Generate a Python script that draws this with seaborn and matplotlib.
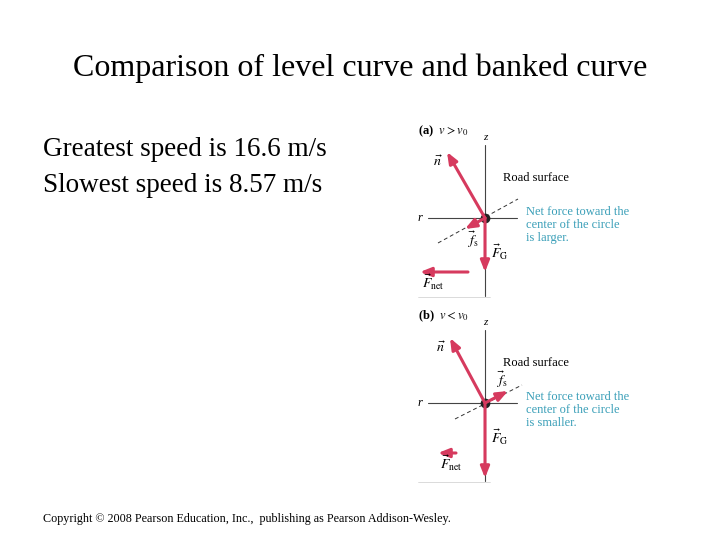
import matplotlib.pyplot as plt
import seaborn as sns

# slide text
title = "Comparison of level curve and banked curve"
lines = ["Greatest speed is 16.6 m/s", "Slowest speed is 8.57 m/s"]
footer = "Copyright © 2008 Pearson Education, Inc.,  publishing as Pearson Addison-Wesley."

# force diagrams: origin and arrow tips (pixel coords of the slide)
panels = ["(a)  $v > v_0$", "(b)  $v < v_0$"]
origins = [(485, 218), (485, 403)]
n_tips = [(447, 152), (450, 338)]
f_tips = [(465, 229), (508, 391)]
fg_tips = [(485, 272), (485, 478)]
fnet = [((468, 272), (420, 272)), ((456, 453), (438, 453))]
road = [((438, 243), (518, 199)), ((455, 419), (522, 385))]
notes = ["Net force toward the\ncenter of the circle\nis larger.",
         "Net force toward the\ncenter of the circle\nis smaller."]

sns.set_theme(style="white")
plt.rcParams["font.family"] = ["Liberation Serif", "DejaVu Serif"]
plt.rcParams["mathtext.fontset"] = "stix"
plt.rcParams["text.color"] = "black"

fig = plt.figure(figsize=(7.2, 5.4), dpi=100)
ax = fig.add_axes([0, 0, 1, 1])
ax.set_xlim(0, 720)
ax.set_ylim(540, 0)
ax.axis("off")

red = "#d63a5e"
teal = "#3a9fb8"
arrow = dict(arrowstyle="-|>,head_width=0.22,head_length=0.55",
             color=red, lw=2.2, shrinkA=0, shrinkB=0)

ax.text(360, 68, title, ha="center", va="center", fontsize=23)
for i, s in enumerate(lines):
    ax.text(43, 149 + i * 36, s, ha="left", va="center", fontsize=19.5)
ax.text(43, 519, footer, ha="left", va="center", fontsize=8.7)

for k in range(2):
    ox, oy = origins[k]
    ax.text(418, oy - 87, panels[k], fontsize=9, fontweight="bold", va="center")
    ax.plot([ox, ox], [oy - 73, oy + 78], color="#444444", lw=0.8)
    ax.plot([ox - 57, ox + 32], [oy, oy], color="#444444", lw=0.8)
    ax.text(ox, oy - 78, "z", fontsize=8, ha="center", style="italic")
    ax.text(ox - 63, oy, "r", fontsize=9, ha="right", va="center", style="italic")
    (x0, y0), (x1, y1) = road[k]
    ax.plot([x0, x1], [y0, y1], color="#333333", lw=0.7, ls=(0, (4, 3)))
    for tip in (n_tips[k], f_tips[k], fg_tips[k]):
        ax.annotate("", xy=tip, xytext=(ox, oy), arrowprops=arrow)
    s, e = fnet[k]
    ax.annotate("", xy=e, xytext=s, arrowprops=arrow)
    ax.plot(ox, oy, "o", color="#222222", ms=6)
    ax.text(n_tips[k][0] - 4, n_tips[k][1] + 14, r"$\vec{n}$", fontsize=10, ha="right")
    ax.text(ox + 6, oy + 40, r"$\vec{F}_{\rm G}$", fontsize=10)
    ax.text(e[0] + 2, e[1] + 16, r"$\vec{F}_{\rm net}$", fontsize=10)
    fx, fy = f_tips[k]
    ax.text(fx + (2 if k == 0 else -12), fy + (16 if k == 0 else -6), r"$\vec{f}_{\rm s}$", fontsize=10)
    ax.text(503, oy - 40, "Road surface", fontsize=9, va="center")
    ax.text(526, oy - 12, notes[k], fontsize=9, color=teal, va="top", linespacing=1.1)
    ax.plot([418, 490], [oy + 79, oy + 79], color="#cccccc", lw=0.5)

fig.savefig("out.png", dpi=100)
plt.close(fig)
